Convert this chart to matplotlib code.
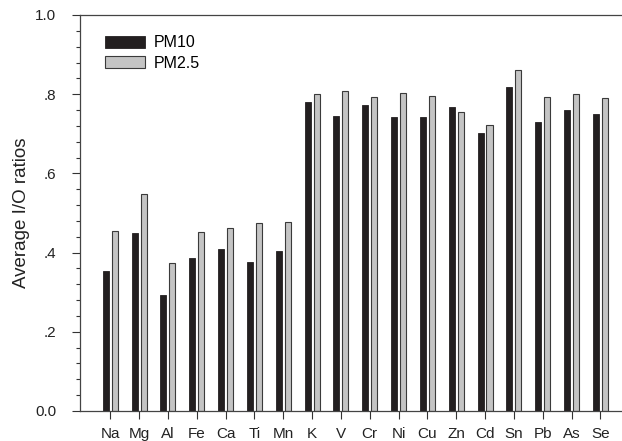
import matplotlib
matplotlib.use("Agg")
import matplotlib.pyplot as plt
import numpy as np
from matplotlib.ticker import MultipleLocator

elements = ["Na", "Mg", "Al", "Fe", "Ca", "Ti", "Mn", "K", "V", "Cr",
            "Ni", "Cu", "Zn", "Cd", "Sn", "Pb", "As", "Se"]
pm10 = [0.354, 0.449, 0.293, 0.386, 0.409, 0.376, 0.404, 0.781, 0.746, 0.773,
        0.742, 0.742, 0.768, 0.702, 0.819, 0.729, 0.760, 0.750]
pm25 = [0.455, 0.548, 0.375, 0.451, 0.463, 0.474, 0.478, 0.800, 0.808, 0.794,
        0.802, 0.795, 0.754, 0.721, 0.862, 0.792, 0.801, 0.790]
yticks = [0.0, 0.2, 0.4, 0.6, 0.8, 1.0]
ytick_labels = ["0.0", ".2", ".4", ".6", ".8", "1.0"]

plt.rcParams['font.family'] = ['Liberation Sans', 'DejaVu Sans']

fig = plt.figure(figsize=(6.22, 4.41), dpi=100)
ax = fig.add_axes([80 / 622, 30 / 441, 1 - 80 / 622, 396 / 441])

x = np.arange(len(elements))
w = 0.21
ax.bar(x - 0.155, pm10, w, color="#231f20", edgecolor="#231f20", linewidth=0.6, label="PM10")
ax.bar(x + 0.155, pm25, w, color="#c4c4c4", edgecolor="#3a3a3a", linewidth=0.8, label="PM2.5")

ax.set_xlim(-1.05, 17.75)
ax.set_ylim(0, 1.0)
ax.set_xticks(x)
ax.set_xticklabels(elements, fontsize=11)
ax.set_yticks(yticks)
ax.set_yticklabels(ytick_labels, fontsize=11)
ax.yaxis.set_minor_locator(MultipleLocator(0.04))
ax.tick_params(axis="x", which="major", direction="out", length=5.5, width=0.8,
               pad=6, colors="#333333", labelcolor="#222222")
ax.tick_params(axis="y", which="major", direction="out", length=6, width=0.8,
               pad=11, colors="#333333", labelcolor="#222222")
ax.tick_params(axis="y", which="minor", direction="out", length=3, width=0.8, colors="#333333")
ax.set_ylabel("Average I/O ratios", fontsize=13.5, color="#222222")
ax.yaxis.set_label_coords(-0.092, 0.5)

for s in ["left", "bottom", "top"]:
    ax.spines[s].set_color("#444444")
    ax.spines[s].set_linewidth(0.9)
ax.spines["right"].set_visible(False)

ax.legend(loc="upper left", bbox_to_anchor=(0.02, 0.985), frameon=False, fontsize=11.5,
          handlelength=2.5, handleheight=0.75, handletextpad=0.55, labelspacing=0.35)

fig.savefig("out.png", dpi=100)
